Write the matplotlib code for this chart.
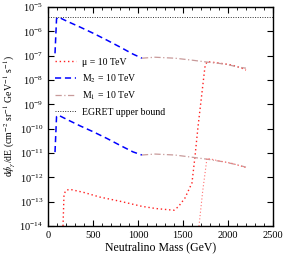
"""Neutralino gamma-ray flux vs mass, with the EGRET upper bound."""

import matplotlib
matplotlib.use("Agg")
import matplotlib.pyplot as plt
from matplotlib.ticker import MultipleLocator, NullLocator, LogLocator
import numpy as np

plt.rcParams["font.family"] = ["Liberation Serif", "DejaVu Serif"]
plt.rcParams["mathtext.fontset"] = "stix"

# M2 = 10 TeV (upper and lower curves)
m2_mass = [78, 95, 115, 211, 356, 500, 656, 800, 944, 1044]
m2_hi_exp = [-6.90, -5.48, -5.41, -5.58, -5.82, -6.07, -6.36, -6.64, -6.93, -7.10]
m2_lo_exp = [-10.96, -9.50, -9.44, -9.62, -9.88, -10.12, -10.40, -10.68, -10.95, -11.08]

# M1 = 10 TeV
m1_mass = [1044, 1189, 1411, 1600, 1767, 1967, 2122, 2200]
m1_hi_exp = [-7.10, -7.06, -7.10, -7.18, -7.26, -7.34, -7.47, -7.51]
m1_lo_exp = [-11.08, -11.04, -11.08, -11.17, -11.25, -11.37, -11.50, -11.58]

# mu = 10 TeV
mu_a_mass = [167, 178, 200, 244, 400, 578, 800, 1044, 1200, 1400, 1450,
             1522, 1600, 1633, 1667, 1711, 1744, 1767, 1900, 2044, 2156, 2200]
mu_a_exp = [-14.0, -12.69, -12.53, -12.49, -12.62, -12.81, -12.98, -13.19, -13.28,
            -13.35, -13.20, -12.85, -12.23, -11.17, -9.93, -8.53, -7.47, -7.24,
            -7.30, -7.38, -7.51, -7.59]
mu_b_mass = [1678, 1720, 1767, 1900, 2044, 2200]
mu_b_exp = [-14.0, -12.55, -11.21, -11.32, -11.42, -11.60]

egret_mass = [0, 2500]
egret_flux = [3.8e-6, 3.8e-6]


def main() -> None:
    fig = plt.figure(figsize=(2.84, 2.54), dpi=100)
    ax = fig.add_axes([0.169, 0.110, 0.792, 0.862])

    ax.plot(mu_a_mass, 10.0 ** np.array(mu_a_exp), color="#ff2020", ls=(0, (1, 2)),
            lw=1.0, label="μ = 10 TeV")
    ax.plot(m2_mass, 10.0 ** np.array(m2_hi_exp), color="#0000ff", ls=(0, (4, 2.5)),
            lw=1.1, label=r"M$_2$ = 10 TeV")
    ax.plot(m1_mass, 10.0 ** np.array(m1_hi_exp), color="#c89a9a", ls=(0, (5, 2, 1, 2)),
            lw=0.9, label=r"M$_1$ = 10 TeV")
    ax.plot(egret_mass, egret_flux, color="#303030", ls=(0, (1, 1.5)), lw=0.7,
            label="EGRET upper bound")
    ax.plot(m2_mass, 10.0 ** np.array(m2_lo_exp), color="#0000ff", ls=(0, (4, 2.5)), lw=1.1)
    ax.plot(m1_mass, 10.0 ** np.array(m1_lo_exp), color="#c89a9a", ls=(0, (5, 2, 1, 2)), lw=0.9)
    ax.plot(mu_b_mass, 10.0 ** np.array(mu_b_exp), color="#ff7070", ls=(0, (1, 2)), lw=0.8)

    ax.set_yscale("log")
    ax.set_xlim(0, 2500)
    ax.set_ylim(1e-14, 1e-5)
    ax.xaxis.set_major_locator(MultipleLocator(500))
    ax.xaxis.set_minor_locator(MultipleLocator(100))
    ax.yaxis.set_major_locator(LogLocator(base=10, numticks=20))
    ax.yaxis.set_minor_locator(NullLocator())
    ax.tick_params(which="both", direction="in", top=True, right=True, labelsize=7.5)
    ax.tick_params(which="major", length=4, width=0.8)
    ax.tick_params(which="minor", length=2, width=0.6)
    for side in ax.spines.values():
        side.set_linewidth(1.0)

    ax.set_xlabel("Neutralino Mass (GeV)", fontsize=8.5, labelpad=1)
    ax.set_ylabel(r"d$\phi_\gamma$/dE (cm$^{-2}$ sr$^{-1}$ GeV$^{-1}$ s$^{-1}$)",
                  fontsize=7, labelpad=2)

    ax.legend(loc="upper left", bbox_to_anchor=(0.0, 0.80), frameon=False, fontsize=7,
              handlelength=2.2, handletextpad=0.6, labelspacing=0.55, borderaxespad=0.3)

    fig.savefig("out.png", dpi=100)


if __name__ == "__main__":
    main()
